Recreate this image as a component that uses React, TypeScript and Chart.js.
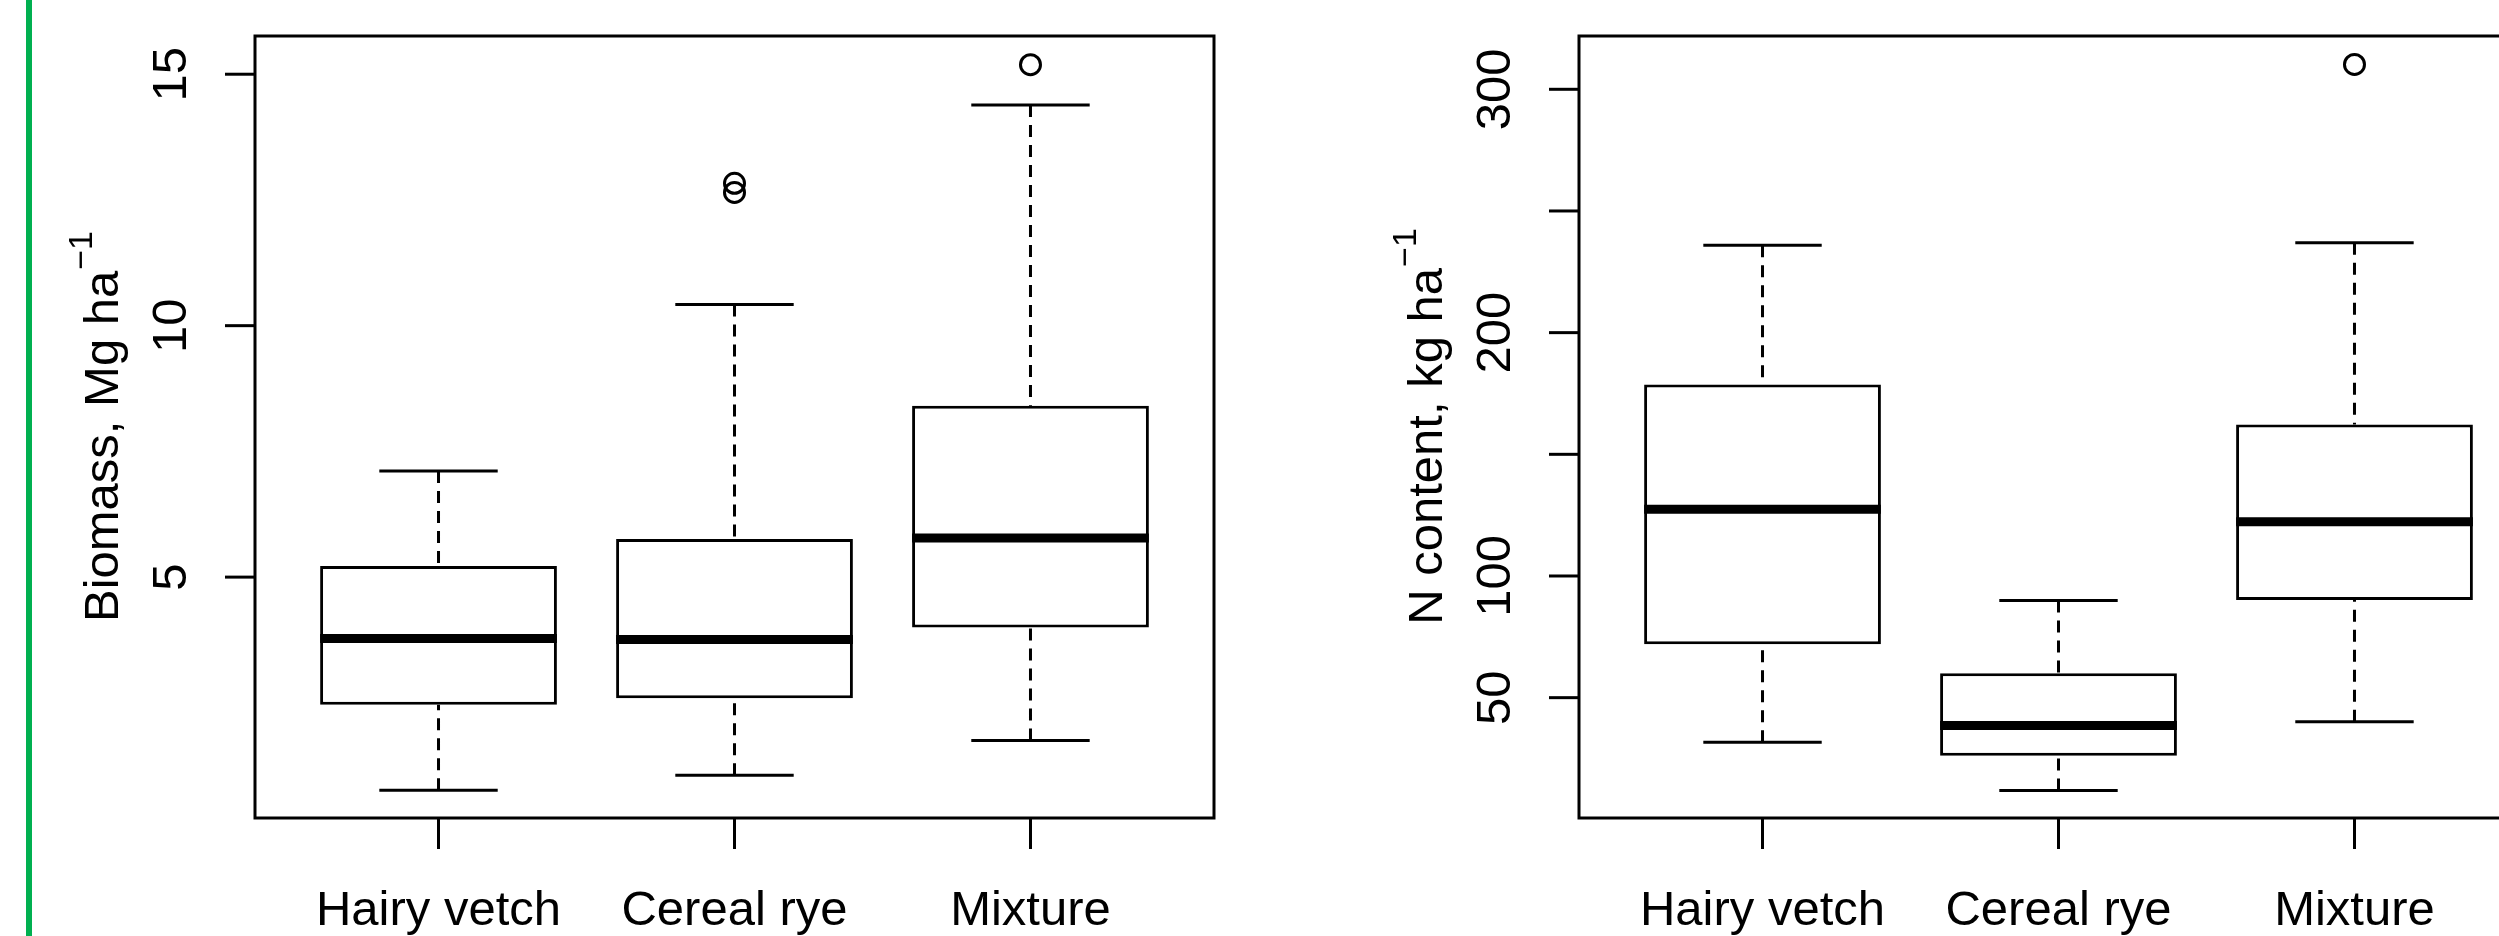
import React, { useEffect, useRef } from 'react';
import { Chart, registerables } from 'chart.js';

Chart.register(...registerables);

// ---------- data ----------
const categories = ['Hairy vetch', 'Cereal rye', 'Mixture'];

// Panel 1: Biomass, Mg ha-1
const biomassLowerWhisker = [0.76, 1.06, 1.75];
const biomassQ1 = [2.46, 2.59, 4.0];
const biomassMedian = [3.78, 3.76, 5.78];
const biomassQ3 = [5.22, 5.76, 8.41];
const biomassUpperWhisker = [7.11, 10.42, 14.39];
const biomassOutliers = [[], [12.65, 12.83], [15.19]];
const biomassTicks = [5, 10, 15];
const biomassTickLabels = ['5', '10', '15'];
const biomassRange = [0.21, 15.76];

// Panel 2: N content, kg ha-1
const nLowerWhisker = [31.7, 11.9, 40.1];
const nQ1 = [72.0, 26.1, 90.1];
const nMedian = [127.4, 38.6, 122.3];
const nQ3 = [178.7, 60.0, 162.3];
const nUpperWhisker = [235.9, 89.9, 236.9];
const nOutliers = [[], [], [310.2]];
const nTicks = [50, 100, 150, 200, 250, 300];
const nTickLabels = ['50', '100', '', '200', '', '300'];
const nRange = [0.55, 321.9];

const xRange = [0.38, 3.62];
const BOX_HALF = 0.4;
const CAP_HALF = 0.2;
const FONT = '"Liberation Sans", Arial, Helvetica, sans-serif';

type Panel = {
  lower: number[]; q1: number[]; median: number[]; q3: number[]; upper: number[];
  outliers: number[][]; ticks: number[]; tickLabels: string[]; range: number[];
  title: string; titleSup: string;
};

const panels: Panel[] = [
  {
    lower: biomassLowerWhisker, q1: biomassQ1, median: biomassMedian, q3: biomassQ3,
    upper: biomassUpperWhisker, outliers: biomassOutliers, ticks: biomassTicks,
    tickLabels: biomassTickLabels, range: biomassRange,
    title: 'Biomass, Mg ha', titleSup: '\u22121',
  },
  {
    lower: nLowerWhisker, q1: nQ1, median: nMedian, q3: nQ3, upper: nUpperWhisker,
    outliers: nOutliers, ticks: nTicks, tickLabels: nTickLabels, range: nRange,
    title: 'N content, kg ha', titleSup: '\u22121',
  },
];

const rAxesPlugin = {
  id: 'rAxes',
  beforeDraw(chart: any) {
    const { ctx, width, height } = chart;
    ctx.save();
    ctx.fillStyle = '#ffffff';
    ctx.fillRect(0, 0, width, height);
    ctx.restore();
  },
  afterDraw(chart: any, _args: any, opts: any) {
    const { ctx, chartArea: a, scales } = chart;
    const xs = scales.x;
    const ys = scales.y;
    ctx.save();
    ctx.strokeStyle = '#000';
    ctx.fillStyle = '#000';
    ctx.lineWidth = 3;
    ctx.lineCap = 'butt';
    ctx.strokeRect(a.left, a.top, a.right - a.left, a.bottom - a.top);

    // y ticks and labels
    ctx.font = `49px ${FONT}`;
    ctx.textAlign = 'center';
    ctx.textBaseline = 'alphabetic';
    (opts.ticks as number[]).forEach((v, i) => {
      const py = ys.getPixelForValue(v);
      ctx.beginPath();
      ctx.moveTo(a.left - 30, py);
      ctx.lineTo(a.left, py);
      ctx.stroke();
      const lbl = opts.tickLabels[i];
      if (lbl) {
        ctx.save();
        ctx.translate(a.left - 69, py);
        ctx.rotate(-Math.PI / 2);
        ctx.fillText(lbl, 0, 0);
        ctx.restore();
      }
    });

    // x ticks and labels
    (opts.categories as string[]).forEach((c, i) => {
      const px = xs.getPixelForValue(i + 1);
      ctx.beginPath();
      ctx.moveTo(px, a.bottom);
      ctx.lineTo(px, a.bottom + 31);
      ctx.stroke();
      ctx.fillText(c, px, a.bottom + 107);
    });

    // y axis title with superscript
    const cy = (a.top + a.bottom) / 2;
    ctx.save();
    ctx.translate(a.left - 137, cy);
    ctx.rotate(-Math.PI / 2);
    ctx.textAlign = 'left';
    ctx.font = `49px ${FONT}`;
    const w1 = ctx.measureText(opts.title).width;
    ctx.font = `34px ${FONT}`;
    const w2 = ctx.measureText(opts.titleSup).width;
    const start = -(w1 + w2) / 2;
    ctx.font = `49px ${FONT}`;
    ctx.fillText(opts.title, start, 0);
    ctx.font = `34px ${FONT}`;
    ctx.fillText(opts.titleSup, start + w1 + 1, -26);
    ctx.restore();

    ctx.restore();
  },
};

function buildConfig(p: Panel, padRight: number, padLeft: number): any {
  const idx = categories.map((_, i) => i);
  const boxes = idx.map((i) => ({ x: i + 1, y: [p.q1[i], p.q3[i]] }));
  const medians = idx.flatMap((i) => [
    { x: i + 1 - BOX_HALF, y: p.median[i] },
    { x: i + 1 + BOX_HALF, y: p.median[i] },
    { x: i + 1.5, y: null },
  ]);
  const whiskers = idx.flatMap((i) => [
    { x: i + 1, y: p.upper[i] },
    { x: i + 1, y: p.q3[i] },
    { x: i + 1, y: null },
    { x: i + 1, y: p.lower[i] },
    { x: i + 1, y: p.q1[i] },
    { x: i + 1, y: null },
  ]);
  const upperCaps = idx.flatMap((i) => [
    { x: i + 1 - CAP_HALF, y: p.upper[i] },
    { x: i + 1 + CAP_HALF, y: p.upper[i] },
    { x: i + 1.5, y: null },
  ]);
  const lowerCaps = idx.flatMap((i) => [
    { x: i + 1 - CAP_HALF, y: p.lower[i] },
    { x: i + 1 + CAP_HALF, y: p.lower[i] },
    { x: i + 1.5, y: null },
  ]);
  const outs = idx.flatMap((i) => p.outliers[i].map((v) => ({ x: i + 1, y: v })));

  const lineBase = {
    type: 'line',
    borderColor: '#000',
    pointRadius: 0,
    pointHoverRadius: 0,
    fill: false,
    spanGaps: false,
    tension: 0,
    borderCapStyle: 'butt',
  };

  return {
    type: 'bar',
    data: {
      datasets: [
        { ...lineBase, data: medians, borderWidth: 9, order: 0 },
        {
          type: 'scatter', data: outs, pointStyle: 'circle', pointRadius: 10,
          pointHoverRadius: 10, pointBorderWidth: 3, borderWidth: 3,
          pointBackgroundColor: 'rgba(0,0,0,0)', pointBorderColor: '#000',
          backgroundColor: 'rgba(0,0,0,0)', borderColor: '#000', order: 1,
        },
        { ...lineBase, data: upperCaps, borderWidth: 3, order: 2 },
        { ...lineBase, data: lowerCaps, borderWidth: 3, order: 3 },
        { ...lineBase, data: whiskers, borderWidth: 3, borderDash: [12, 8], order: 4 },
        {
          type: 'bar', data: boxes, backgroundColor: '#ffffff', borderColor: '#000',
          borderWidth: 3, borderSkipped: false, barPercentage: 1,
          categoryPercentage: 2 * BOX_HALF, order: 5,
        },
      ],
    },
    options: {
      responsive: false,
      animation: false,
      events: [],
      layout: { padding: { left: padLeft, right: padRight, top: 36, bottom: 118 } },
      plugins: {
        legend: { display: false },
        tooltip: { enabled: false },
        rAxes: {
          ticks: p.ticks, tickLabels: p.tickLabels, categories,
          title: p.title, titleSup: p.titleSup,
        },
      },
      scales: {
        x: {
          type: 'linear', display: false, offset: false, min: xRange[0], max: xRange[1],
          afterBuildTicks: (scale: any) => {
            scale.ticks = categories.map((_, i) => ({ value: i + 1 }));
          },
        },
        y: { type: 'linear', display: false, min: p.range[0], max: p.range[1], beginAtZero: false },
      },
    },
    plugins: [rAxesPlugin],
  };
}

function BoxPanel({ panel, width, padLeft, padRight, left }: { panel: Panel; width: number; padLeft: number; padRight: number; left: number }) {
  const ref = useRef<HTMLCanvasElement | null>(null);
  useEffect(() => {
    if (!ref.current) return;
    const chart = new Chart(ref.current, buildConfig(panel, padRight, padLeft));
    return () => chart.destroy();
  }, [panel, padLeft, padRight]);
  return (
    <canvas
      ref={ref}
      width={width}
      height={936}
      style={{ position: 'absolute', left, top: 0, width, height: 936, display: 'block' }}
    />
  );
}

export default function App() {
  return (
    <div
      style={{
        position: 'absolute', left: 0, top: 0, width: 2499, height: 936,
        overflow: 'hidden', background: '#ffffff',
      }}
    >
      <BoxPanel panel={panels[0]} width={1250} padLeft={255} padRight={36} left={0} />
      <BoxPanel panel={panels[1]} width={1350} padLeft={329} padRight={62} left={1250} />
      <div
        style={{ position: 'absolute', left: 26, top: 0, width: 6, height: 936, background: '#00b050' }}
      />
    </div>
  );
}
